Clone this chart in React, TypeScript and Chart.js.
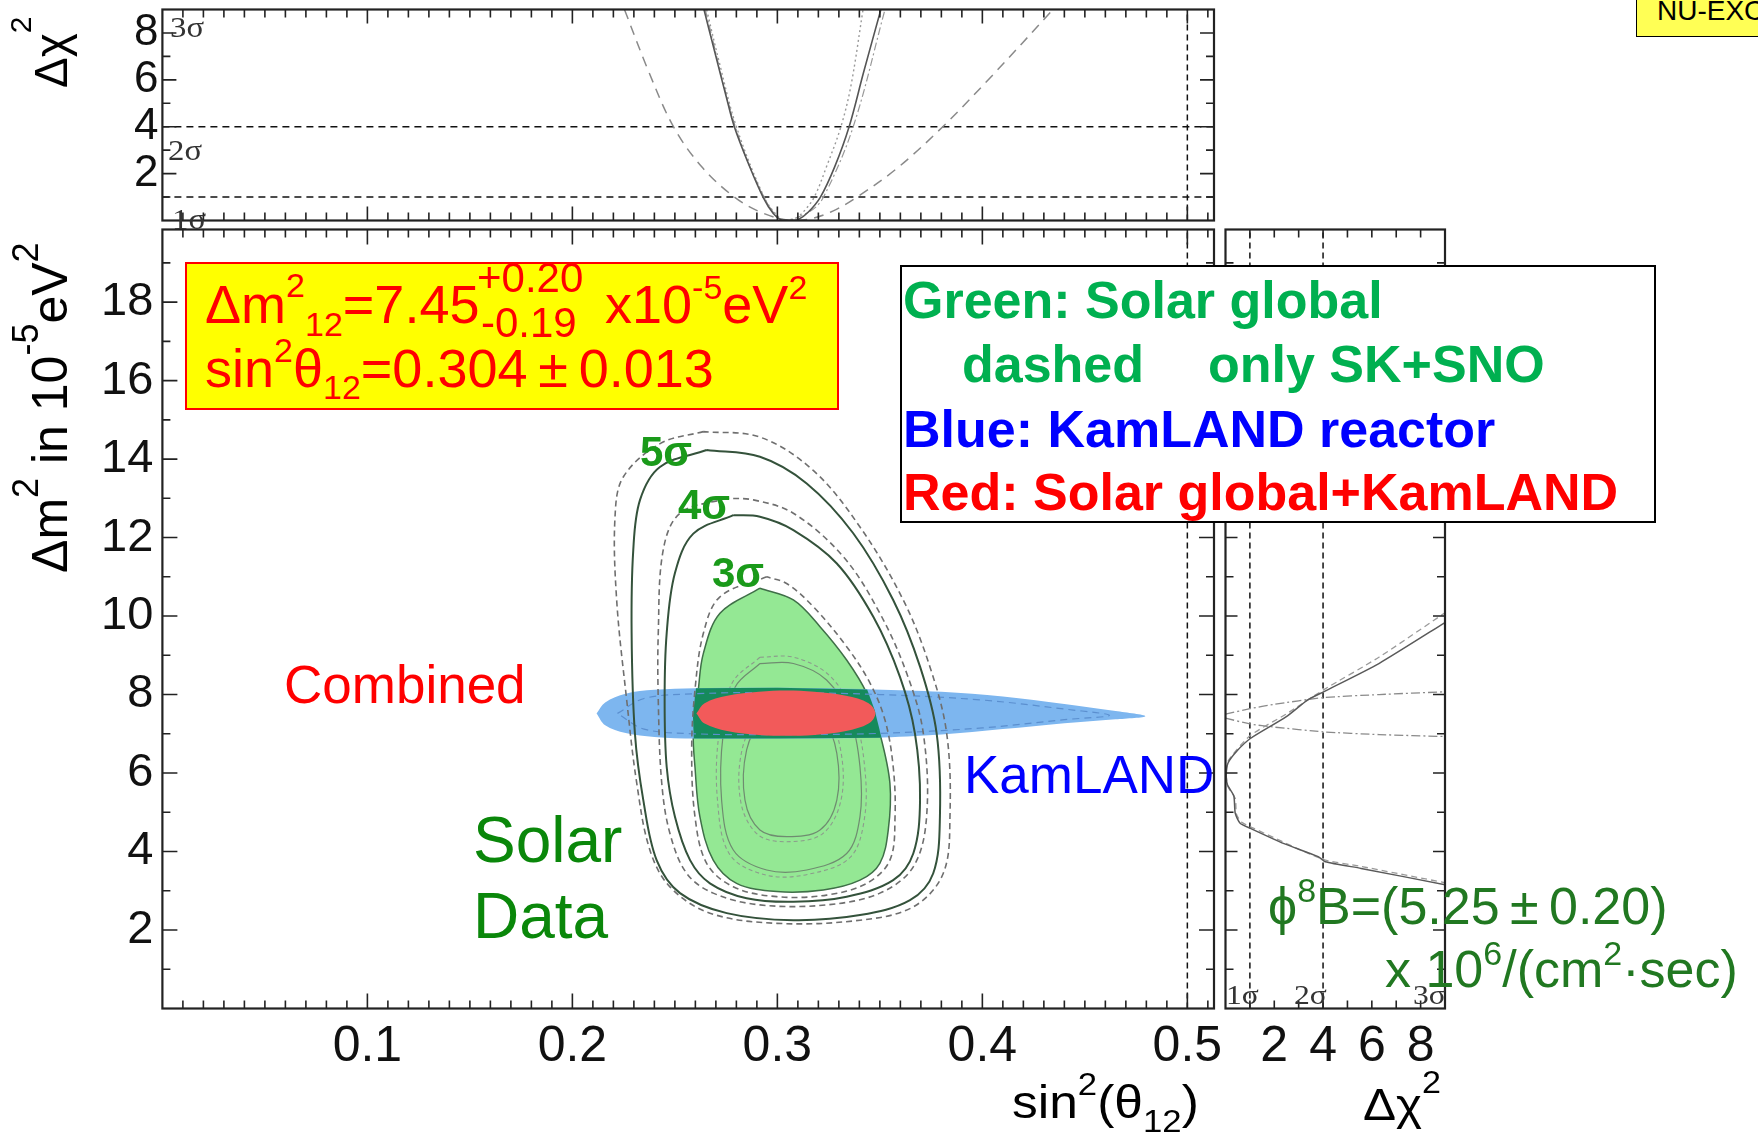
import React, { useEffect, useRef } from 'react';
import { Chart, registerables } from 'chart.js';

Chart.register(...registerables);

const W = 1758;
const H = 1139;
const FONT = '"Liberation Sans", Arial, Helvetica, "DejaVu Sans", sans-serif';
const SERIF = '"Liberation Serif", "Times New Roman", serif';

// ---------- axis ranges and tick labels ----------
const SIN_MAX = 0.513;
const DM_MAX = 19.85;
const CHI_MAX = 9;
const SIN_TICKS = [0.1, 0.2, 0.3, 0.4, 0.5];
const DM_TICKS = [2, 4, 6, 8, 10, 12, 14, 16, 18];
const CHI_TICKS = [2, 4, 6, 8];
const SIGMA_CHI = [1, 4]; // dashed reference levels (1σ, 2σ)
const MAX_MIXING = 0.5;

type P = [number, number];

// ---------- top panel: Δχ² vs sin²θ12 ----------
const TOP_SOLAR: P[] = [[0.2642, 9], [0.27, 7], [0.275, 5.3], [0.279, 4], [0.286, 2.4], [0.293, 1], [0.298, 0.3], [0.302, 0.02], [0.306, 0], [0.31, 0.03], [0.315, 0.35], [0.321, 1], [0.328, 2.3], [0.335, 4], [0.342, 6.3], [0.3505, 9]];
const TOP_SOLAR_DOT: P[] = [[0.2655, 9], [0.2715, 6.8], [0.28, 4], [0.2935, 1], [0.3, 0.2], [0.304, 0], [0.309, 0.1], [0.313, 0.4], [0.318, 1], [0.324, 2.3], [0.331, 4], [0.336, 5.8], [0.3418, 9]];
const TOP_SOLAR_DASHDOT: P[] = [[0.2648, 9], [0.2795, 4], [0.2935, 1], [0.303, 0], [0.316, 0.4], [0.3225, 1], [0.337, 4], [0.3525, 9]];
const TOP_SKSNO: P[] = [[0.2254, 9], [0.237, 6.4], [0.2493, 4], [0.263, 2.3], [0.279, 1], [0.292, 0.35], [0.305, 0.02], [0.315, 0.05], [0.327, 0.4], [0.3388, 1], [0.358, 2.2], [0.3807, 4], [0.405, 6.2], [0.4345, 9]];

// ---------- main panel: Δm² vs sin²θ12 contours ----------
const SOLAR_3S_FILL: P[] = [[0.2915, 10.71], [0.272, 10.07], [0.2639, 9.05], [0.2614, 8.11], [0.259, 7.01], [0.2598, 6.16], [0.2622, 4.89], [0.2687, 3.78], [0.2801, 3.19], [0.2997, 2.98], [0.3224, 3.02], [0.3403, 3.27], [0.35, 3.7], [0.3541, 4.55], [0.3549, 5.74], [0.35, 7.01], [0.3436, 8.03], [0.3338, 8.88], [0.3208, 9.73], [0.3078, 10.41]];
const SKSNO_3S: P[] = [[0.2948, 11.0], [0.272, 10.49], [0.2639, 9.56], [0.2598, 8.11], [0.2582, 6.59], [0.2598, 4.89], [0.2655, 3.7], [0.2785, 3.1], [0.2997, 2.85], [0.324, 2.89], [0.3436, 3.19], [0.3549, 3.78], [0.3574, 4.89], [0.3565, 6.16], [0.3525, 7.35], [0.3452, 8.29], [0.3338, 9.22], [0.3175, 10.24], [0.3045, 10.83]];
const SOLAR_4S: P[] = [[0.2785, 12.57], [0.259, 12.1], [0.25, 11.09], [0.246, 9.56], [0.245, 7.86], [0.246, 6.16], [0.25, 4.89], [0.2574, 3.78], [0.2671, 3.19], [0.285, 2.81], [0.3078, 2.72], [0.3338, 2.85], [0.3565, 3.27], [0.3663, 3.95], [0.3696, 5.31], [0.3671, 7.01], [0.3598, 8.45], [0.3468, 9.98], [0.329, 11.34], [0.3078, 12.19], [0.2915, 12.53]];
const SKSNO_4S: P[] = [[0.2753, 13.0], [0.2525, 12.62], [0.2443, 11.68], [0.2419, 9.56], [0.2419, 7.86], [0.2436, 5.74], [0.2476, 4.46], [0.2558, 3.44], [0.2687, 2.94], [0.2915, 2.64], [0.324, 2.64], [0.35, 2.94], [0.3663, 3.61], [0.3728, 4.89], [0.3712, 7.01], [0.3631, 8.54], [0.35, 10.07], [0.3322, 11.51], [0.3078, 12.62], [0.2883, 12.96]];
const SOLAR_5S: P[] = [[0.2655, 14.23], [0.2427, 13.8], [0.233, 12.96], [0.2297, 11.68], [0.2289, 9.56], [0.2305, 7.01], [0.2346, 5.31], [0.2411, 3.78], [0.2525, 2.94], [0.2753, 2.43], [0.3078, 2.25], [0.3403, 2.38], [0.3647, 2.76], [0.376, 3.44], [0.3793, 4.89], [0.3777, 7.01], [0.3696, 8.71], [0.3565, 10.41], [0.337, 12.11], [0.3143, 13.38], [0.2915, 14.06]];
const SKSNO_5S: P[] = [[0.2639, 14.7], [0.243, 14.4], [0.2249, 13.55], [0.2208, 12.53], [0.2216, 10.41], [0.2265, 7.86], [0.2314, 5.74], [0.2378, 4.04], [0.2476, 3.1], [0.2671, 2.43], [0.2997, 2.17], [0.3403, 2.25], [0.3663, 2.59], [0.3809, 3.44], [0.3842, 4.89], [0.3826, 7.01], [0.3744, 8.71], [0.3614, 10.41], [0.3403, 12.27], [0.3175, 13.71], [0.2915, 14.56]];
const SOLAR_2S: P[] = [[0.2915, 8.79], [0.2795, 8.2], [0.2736, 7.01], [0.2728, 5.31], [0.2785, 4.04], [0.2948, 3.53], [0.3143, 3.53], [0.3338, 3.95], [0.3403, 4.89], [0.3403, 6.16], [0.3354, 7.43], [0.324, 8.37], [0.3078, 8.79]];
const SKSNO_2S: P[] = [[0.2915, 8.95], [0.278, 8.3], [0.2715, 7.0], [0.2708, 5.3], [0.2768, 3.92], [0.2945, 3.4], [0.315, 3.42], [0.3355, 3.85], [0.3425, 4.85], [0.3425, 6.2], [0.3372, 7.5], [0.3255, 8.48], [0.308, 8.95]];
const SOLAR_1S: P[] = [[0.3078, 7.69], [0.2931, 7.35], [0.285, 6.59], [0.2842, 5.31], [0.2915, 4.55], [0.3045, 4.38], [0.3208, 4.55], [0.329, 5.31], [0.329, 6.5], [0.3224, 7.35]];
const SKSNO_1S: P[] = [[0.3078, 7.85], [0.2915, 7.45], [0.2828, 6.6], [0.2822, 5.25], [0.2905, 4.43], [0.3045, 4.25], [0.322, 4.45], [0.331, 5.3], [0.331, 6.55], [0.324, 7.45]];
const KAMLAND: P[] = [[0.2118, 7.52], [0.216, 7.8], [0.226, 8.02], [0.24, 8.12], [0.26, 8.16], [0.3, 8.17], [0.347, 8.13], [0.38, 8.07], [0.41, 7.95], [0.44, 7.76], [0.465, 7.58], [0.4795, 7.45], [0.465, 7.37], [0.44, 7.27], [0.41, 7.12], [0.38, 6.98], [0.347, 6.9], [0.3, 6.88], [0.26, 6.88], [0.24, 6.92], [0.226, 7.02], [0.216, 7.22]];
const KAMLAND_INNER: P[] = [[0.222, 7.52], [0.235, 7.9], [0.26, 8.02], [0.3, 8.05], [0.35, 8.0], [0.4, 7.86], [0.44, 7.63], [0.462, 7.47], [0.44, 7.36], [0.4, 7.15], [0.35, 7.01], [0.3, 6.98], [0.26, 7.0], [0.235, 7.12]];
const OVERLAP: P[] = [[0.2603, 8.16], [0.3, 8.17], [0.3438, 8.13], [0.3475, 7.6], [0.3508, 6.9], [0.3, 6.88], [0.2592, 6.88], [0.2588, 7.5]];
const COMBINED: P[] = [[0.2605, 7.52], [0.2645, 7.78], [0.2755, 7.97], [0.291, 8.07], [0.3045, 8.1], [0.318, 8.07], [0.3335, 7.97], [0.3445, 7.78], [0.3478, 7.52], [0.3445, 7.26], [0.3335, 7.07], [0.318, 6.97], [0.3045, 6.95], [0.291, 6.97], [0.2755, 7.07], [0.2645, 7.26]];

// ---------- right panel: Δm² vs Δχ² ----------
const SIDE_SOLAR: P[] = [[9.04, 9.85], [6.29, 8.79], [4.02, 8.07], [3.36, 7.86], [2.48, 7.43], [1.02, 6.88], [0.45, 6.55], [0.1, 6.25], [0.03, 5.95], [0.08, 5.7], [0.34, 5.42], [0.4, 4.97], [0.6, 4.72], [1.02, 4.59], [2.4, 4.2], [3.8, 3.87], [4.09, 3.74], [5.56, 3.57], [9.04, 3.15]];
const SIDE_SKSNO: P[] = [[9.04, 10.1], [6.29, 8.95], [4.02, 8.12], [2.48, 7.5], [1.0, 6.95], [0.1, 6.3], [0.03, 5.95], [0.1, 5.65], [0.4, 5.35], [0.45, 4.95], [0.65, 4.75], [1.02, 4.63], [4.0, 3.8], [5.56, 3.62], [9.04, 3.2]];
const SIDE_COMB_UP: P[] = [[0, 7.5], [1, 7.64], [2, 7.75], [4, 7.92], [6.3, 8.0], [9, 8.07]];
const SIDE_COMB_DN: P[] = [[0, 7.4], [1, 7.25], [2, 7.17], [4, 7.05], [6.3, 6.98], [9, 6.93]];

// ---------- helpers ----------
const loop = (pts: P[]): P[] => [...pts, pts[0]];

function mk(pts: P[], o: any) {
  return {
    data: pts.map(([x, y]) => ({ x, y })),
    showLine: true,
    pointRadius: 0,
    pointHoverRadius: 0,
    borderColor: o.color ?? 'transparent',
    borderWidth: o.width ?? 1.5,
    borderDash: o.dash ?? [],
    tension: o.tension ?? 0.35,
    fill: o.fill ?? false,
    backgroundColor: o.bg ?? 'transparent',
  };
}
// first dataset in list is drawn at the bottom
const stack = (ds: any[]) => ds.map((d, i) => ({ ...d, order: ds.length - i }));

const framePlugin = {
  id: 'frame',
  afterDatasetsDraw(chart: any, _a: any, opts: any) {
    const { ctx, chartArea: a } = chart;
    const xs = chart.scales.x;
    const ys = chart.scales.y;
    const along = (scale: any, minor: number, major: number, cb: (p: number, len: number) => void) => {
      const n = Math.floor((scale.max - scale.min) / minor + 1e-9);
      for (let i = 1; i <= n; i++) {
        const v = scale.min + i * minor;
        if (v >= scale.max - 1e-9) break;
        const r = v / major;
        const isMajor = Math.abs(r - Math.round(r)) < 1e-6;
        cb(scale.getPixelForValue(v), isMajor ? opts.majorLen : opts.minorLen);
      }
    };
    ctx.save();
    ctx.strokeStyle = '#222';
    ctx.lineWidth = 1.6;
    ctx.beginPath();
    along(xs, opts.xMinor, opts.xMajor, (px, len) => {
      ctx.moveTo(px, a.bottom); ctx.lineTo(px, a.bottom - len);
      ctx.moveTo(px, a.top); ctx.lineTo(px, a.top + len);
    });
    along(ys, opts.yMinor, opts.yMajor, (py, len) => {
      ctx.moveTo(a.left, py); ctx.lineTo(a.left + len, py);
      ctx.moveTo(a.right, py); ctx.lineTo(a.right - len, py);
    });
    ctx.stroke();
    ctx.lineWidth = 2.2;
    ctx.strokeRect(a.left, a.top, a.right - a.left, a.bottom - a.top);
    ctx.restore();
  },
};

const noGrid = { display: false, drawTicks: false };
const tickFont = (size: number) => ({ family: FONT, size, lineHeight: 1 });
const setTicks = (vals: number[]) => (s: any) => { s.ticks = vals.map((v) => ({ value: v })); };
const fixSize = (key: 'width' | 'height', v: number) => (s: any) => {
  s[key] = v;
  s.paddingTop = 0; s.paddingBottom = 0; s.paddingLeft = 0; s.paddingRight = 0;
};

const baseOpts = (padding: any) => ({
  responsive: false,
  animation: false,
  devicePixelRatio: 1,
  layout: { padding },
  plugins: { legend: { display: false }, tooltip: { enabled: false } },
  events: [],
});

const PLOT_LEFT = 162.4;
const PLOT_RIGHT = 1214;
const MAIN_TOP = 229.5;
const MAIN_BOTTOM = 1008.5;
const XAXIS_H = 80;

function topConfig(): any {
  const dashed = { color: '#111', width: 1.5, dash: [7, 5], tension: 0 };
  const datasets = stack([
    ...SIGMA_CHI.map((c) => mk([[0, c], [SIN_MAX, c]], dashed)),
    mk([[MAX_MIXING, 0], [MAX_MIXING, CHI_MAX]], { ...dashed, dash: [6, 4] }),
    mk(TOP_SKSNO, { color: '#8a8a8a', width: 1.5, dash: [10, 7] }),
    mk(TOP_SOLAR_DOT, { color: '#999', width: 1.4, dash: [2, 3] }),
    mk(TOP_SOLAR_DASHDOT, { color: '#999', width: 1.2, dash: [8, 3, 2, 3] }),
    mk(TOP_SOLAR, { color: '#555', width: 1.6 }),
  ]);
  const o: any = baseOpts({ left: 0, top: 9.5, right: W - PLOT_RIGHT, bottom: H - 220.5 });
  o.plugins.frame = { xMinor: 0.01, xMajor: 0.1, yMinor: 1, yMajor: 2, majorLen: 14, minorLen: 8 };
  o.scales = {
    x: { type: 'linear', min: 0, max: SIN_MAX, display: false },
    y: {
      type: 'linear', min: 0, max: CHI_MAX,
      afterBuildTicks: setTicks(CHI_TICKS),
      afterFit: fixSize('width', PLOT_LEFT),
      grid: noGrid, border: { display: false },
      ticks: { font: tickFont(44), color: '#111', padding: 4, autoSkip: false, callback: (v: any) => String(v) },
    },
  };
  return { type: 'scatter', data: { datasets }, options: o, plugins: [framePlugin] };
}

function mainConfig(): any {
  const solid = { color: '#34523b', width: 2 };
  const dash = { color: '#6f6f6f', width: 1.6, dash: [6, 4] };
  const inner = { color: '#6f8c70', width: 1.2 };
  const innerDash = { color: '#8c9c8c', width: 1.1, dash: [4, 3] };
  const datasets = stack([
    mk(loop(SOLAR_3S_FILL), { color: '#3f6f48', width: 1.5, fill: 'shape', bg: '#94e894' }),
    mk(loop(SKSNO_2S), innerDash),
    mk(loop(SOLAR_2S), inner),
    mk(loop(SKSNO_1S), innerDash),
    mk(loop(SOLAR_1S), inner),
    mk(loop(KAMLAND), { color: 'rgba(0,0,0,0)', width: 0, fill: 'shape', bg: '#7db6ef' }),
    mk(loop(OVERLAP), { color: 'rgba(0,0,0,0)', width: 0, fill: 'shape', bg: '#168a5c', tension: 0 }),
    mk(loop(KAMLAND_INNER), { color: '#5b8fcf', width: 1.2, dash: [7, 5] }),
    mk(loop(COMBINED), { color: 'rgba(0,0,0,0)', width: 0, fill: 'shape', bg: '#f25a5a' }),
    mk(loop(SKSNO_3S), dash),
    mk(loop(SKSNO_4S), dash),
    mk(loop(SOLAR_4S), solid),
    mk(loop(SKSNO_5S), dash),
    mk(loop(SOLAR_5S), solid),
    mk([[MAX_MIXING, 0], [MAX_MIXING, DM_MAX]], { color: '#111', width: 1.5, dash: [6, 4], tension: 0 }),
  ]);
  const o: any = baseOpts({ left: 0, top: MAIN_TOP, right: W - PLOT_RIGHT, bottom: H - MAIN_BOTTOM - XAXIS_H });
  o.plugins.frame = { xMinor: 0.01, xMajor: 0.1, yMinor: 1, yMajor: 2, majorLen: 15, minorLen: 8 };
  o.scales = {
    x: {
      type: 'linear', min: 0, max: SIN_MAX, position: 'bottom',
      afterBuildTicks: setTicks(SIN_TICKS),
      afterFit: fixSize('height', XAXIS_H),
      grid: noGrid, border: { display: false },
      ticks: { font: tickFont(50), color: '#111', padding: 14, maxRotation: 0, autoSkip: false, callback: (v: any) => String(v) },
    },
    y: {
      type: 'linear', min: 0, max: DM_MAX,
      afterBuildTicks: setTicks(DM_TICKS),
      afterFit: fixSize('width', PLOT_LEFT),
      grid: noGrid, border: { display: false },
      ticks: { font: tickFont(47), color: '#111', padding: 9, autoSkip: false, callback: (v: any) => String(v) },
    },
  };
  return { type: 'scatter', data: { datasets }, options: o, plugins: [framePlugin] };
}

function sideConfig(): any {
  const datasets = stack([
    ...SIGMA_CHI.map((c) => mk([[c, 0], [c, DM_MAX]], { color: '#111', width: 1.5, dash: [6, 4], tension: 0 })),
    mk(SIDE_COMB_UP, { color: '#8a8a8a', width: 1.3, dash: [9, 3, 2, 3], tension: 0.2 }),
    mk(SIDE_COMB_DN, { color: '#8a8a8a', width: 1.3, dash: [9, 3, 2, 3], tension: 0.2 }),
    mk(SIDE_SKSNO, { color: '#9a9a9a', width: 1.3, dash: [6, 4], tension: 0.2 }),
    mk(SIDE_SOLAR, { color: '#5a5a5a', width: 1.5, tension: 0.2 }),
  ]);
  const o: any = baseOpts({ left: 1225.5, top: MAIN_TOP, right: W - 1445, bottom: H - MAIN_BOTTOM - XAXIS_H });
  o.plugins.frame = { xMinor: 1, xMajor: 100, yMinor: 1, yMajor: 2, majorLen: 12, minorLen: 8 };
  o.scales = {
    x: {
      type: 'linear', min: 0, max: CHI_MAX, position: 'bottom',
      afterBuildTicks: setTicks(CHI_TICKS),
      afterFit: fixSize('height', XAXIS_H),
      grid: noGrid, border: { display: false },
      ticks: { font: tickFont(50), color: '#111', padding: 14, maxRotation: 0, autoSkip: false, callback: (v: any) => String(v) },
    },
    y: { type: 'linear', min: 0, max: DM_MAX, display: false },
  };
  return { type: 'scatter', data: { datasets }, options: o, plugins: [framePlugin] };
}

// ---------- text helpers (y = baseline) ----------
function Txt(p: any) {
  const { x, y, size, color = '#000', weight = 400, family = FONT, rot = false, sx = 1, children } = p;
  const k = 0.3465 * size;
  const style: any = {
    position: 'absolute',
    left: rot ? x - k : x,
    top: rot ? y : y - k,
    fontSize: size,
    lineHeight: 0,
    color,
    fontWeight: weight,
    fontFamily: family,
    whiteSpace: 'pre',
    transformOrigin: '0 0',
    transform: rot ? 'rotate(-90deg)' : sx !== 1 ? `scaleX(${sx})` : undefined,
  };
  return <div style={style}>{children}</div>;
}
function S(p: any) {
  return <span style={{ fontSize: p.s, position: 'relative', top: p.dy }}>{p.children}</span>;
}
const PM = '\u2009±\u2009';

export default function App() {
  const topRef = useRef<HTMLCanvasElement>(null);
  const mainRef = useRef<HTMLCanvasElement>(null);
  const sideRef = useRef<HTMLCanvasElement>(null);

  useEffect(() => {
    Chart.defaults.font.family = FONT;
    const charts = [
      new Chart(topRef.current as HTMLCanvasElement, topConfig()),
      new Chart(mainRef.current as HTMLCanvasElement, mainConfig()),
      new Chart(sideRef.current as HTMLCanvasElement, sideConfig()),
    ];
    return () => charts.forEach((c) => c.destroy());
  }, []);

  const cv: any = { position: 'absolute', left: 0, top: 0, width: W, height: H };
  const red = '#ff0000';
  const sig = '#333';

  return (
    <div style={{ position: 'absolute', left: 0, top: 0, width: W, height: H, overflow: 'hidden', background: '#fff' }}>
      <canvas ref={topRef} width={W} height={H} style={cv} />
      <canvas ref={mainRef} width={W} height={H} style={cv} />
      <canvas ref={sideRef} width={W} height={H} style={cv} />

      {/* axis titles */}
      <Txt x={67} y={88} size={46} rot>Δχ<S s={30} dy={-36}>2</S></Txt>
      <Txt x={67} y={573} size={50} rot>Δm<S s={36} dy={-29}>2</S> in 10<S s={36} dy={-29}>-5</S>eV<S s={36} dy={-29}>2</S></Txt>
      <Txt x={1012} y={1118} size={46} sx={1.12}>sin<S s={31} dy={-23}>2</S>(θ<S s={31} dy={14}>12</S>)</Txt>
      <Txt x={1363} y={1121} size={45} sx={1.1}>Δχ<S s={31} dy={-27}>2</S></Txt>

      {/* sigma labels */}
      <Txt x={170} y={37} size={29} family={SERIF} color={sig} sx={1.13}>3σ</Txt>
      <Txt x={168} y={160} size={29} family={SERIF} color={sig} sx={1.13}>2σ</Txt>
      <Txt x={172} y={229} size={29} family={SERIF} color={sig} sx={1.13}>1σ</Txt>
      <Txt x={1226} y={1005} size={28} family={SERIF} color={sig} sx={1.13}>1σ</Txt>
      <Txt x={1294} y={1005} size={28} family={SERIF} color={sig} sx={1.13}>2σ</Txt>
      <Txt x={1413} y={1005} size={28} family={SERIF} color={sig} sx={1.13}>3σ</Txt>

      {/* best-fit box */}
      <div style={{ position: 'absolute', left: 185, top: 262, width: 654, height: 148, boxSizing: 'border-box', border: '2px solid #ff0000', background: '#ffff00' }} />
      <Txt x={205} y={322.7} size={54} color={red}>Δm<S s={34} dy={-26}>2</S><S s={34} dy={13}>12</S>=7.45</Txt>
      <Txt x={477} y={293} size={42} color={red}>+0.20</Txt>
      <Txt x={481} y={338} size={42} color={red}>-0.19</Txt>
      <Txt x={605} y={322.7} size={54} color={red}>x10<S s={34} dy={-24}>-5</S>eV<S s={34} dy={-24}>2</S></Txt>
      <Txt x={205} y={386.7} size={54} color={red}>sin<S s={34} dy={-25}>2</S>θ<S s={34} dy={12}>12</S>=0.304{PM}0.013</Txt>

      {/* legend box */}
      <div style={{ position: 'absolute', left: 900, top: 265, width: 756, height: 258, boxSizing: 'border-box', border: '2px solid #000', background: '#fff' }} />
      <Txt x={903} y={318} size={52} weight={700} color="#00b050">Green: Solar global</Txt>
      <Txt x={962} y={382} size={52} weight={700} color="#00b050">dashed</Txt>
      <Txt x={1208} y={382} size={52} weight={700} color="#00b050">only SK+SNO</Txt>
      <Txt x={903} y={447} size={52} weight={700} color="#0000ff">Blue: KamLAND reactor</Txt>
      <Txt x={903} y={510} size={52} weight={700} color="#ff0000">Red: Solar global+KamLAND</Txt>

      {/* in-plot labels */}
      <Txt x={284} y={703} size={53} color={red}>Combined</Txt>
      <Txt x={473} y={862} size={64} color="#0a870a">Solar</Txt>
      <Txt x={473} y={938} size={64} color="#0a870a">Data</Txt>
      <Txt x={964} y={793} size={53} color="#0000ff">KamLAND</Txt>
      <Txt x={640} y={467} size={42} weight={700} color="#1a9a1a">5σ</Txt>
      <Txt x={678} y={520} size={42} weight={700} color="#1a9a1a">4σ</Txt>
      <Txt x={712} y={588} size={42} weight={700} color="#1a9a1a">3σ</Txt>

      {/* 8B flux */}
      <Txt x={1268} y={924} size={52} color="#217821">ϕ<S s={34} dy={-22}>8</S>B=(5.25{PM}0.20)</Txt>
      <Txt x={1385} y={987} size={52} color="#217821">x 10<S s={34} dy={-22}>6</S>/(cm<S s={34} dy={-22}>2</S>·sec)</Txt>

      {/* corner tag */}
      <div style={{ position: 'absolute', left: 1636, top: -2, width: 200, height: 39, boxSizing: 'border-box', border: '1.5px solid #000', background: '#ffff55' }} />
      <Txt x={1657} y={21} size={28} color="#000">NU-EXC</Txt>
    </div>
  );
}
